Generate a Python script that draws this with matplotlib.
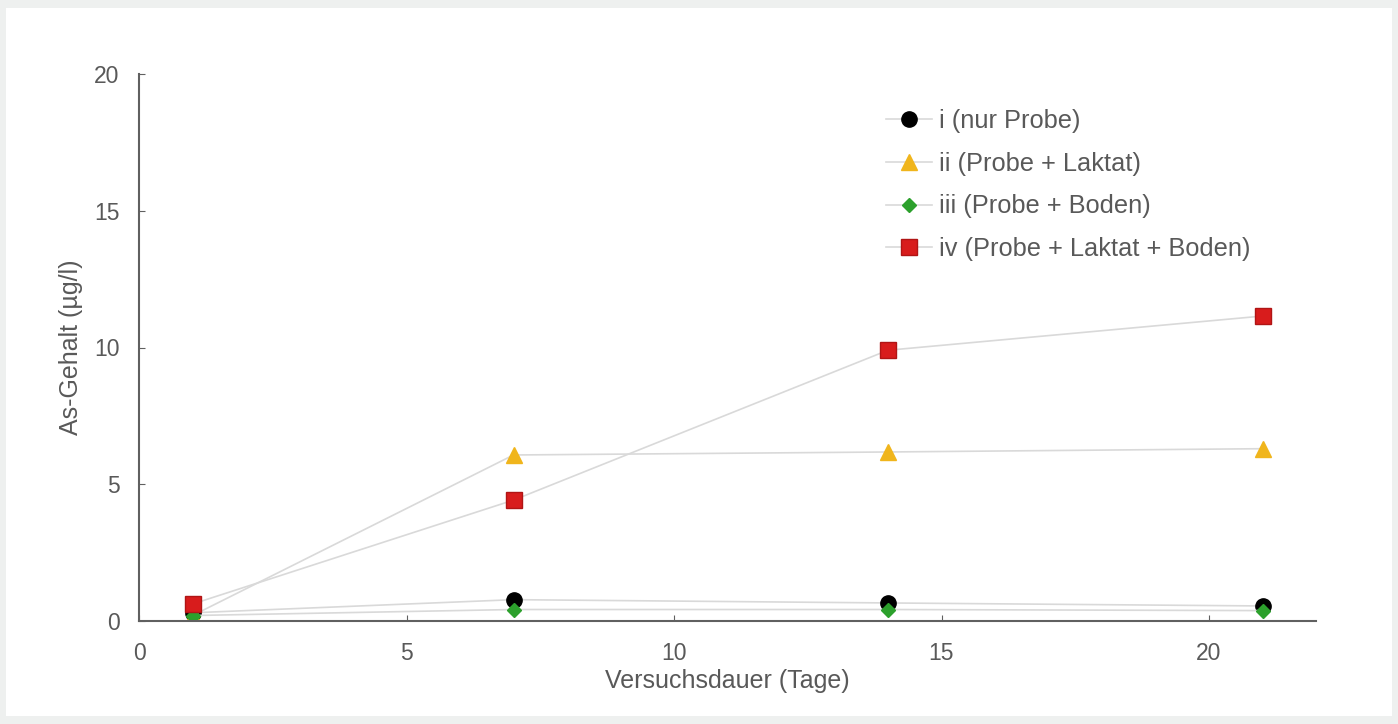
import matplotlib.pyplot as plt
from matplotlib.patches import Rectangle

plt.rcParams['font.family'] = ['Liberation Sans', 'DejaVu Sans']

# Versuchsdauer (Tage)
days = [1, 7, 14, 21]

# As-Gehalt (µg/l) je Ansatz
nur_probe = [0.3, 0.78, 0.66, 0.55]
probe_laktat = [0.2, 6.07, 6.18, 6.3]
probe_boden = [0.2, 0.42, 0.42, 0.38]
probe_laktat_boden = [0.62, 4.42, 9.9, 11.15]

labels = ['i (nur Probe)', 'ii (Probe + Laktat)', 'iii (Probe + Boden)',
          'iv (Probe + Laktat + Boden)']

text_col = '#595959'
line_col = '#d9d9d9'

fig = plt.figure(figsize=(13.98, 7.24), dpi=100)
fig.patch.set_facecolor('#eef0ef')
fig.add_artist(Rectangle((6 / 1398, 8 / 724), 1386 / 1398, 708 / 724,
                         transform=fig.transFigure, facecolor='white',
                         edgecolor='none', zorder=-10))

ax = fig.add_axes([139 / 1398, 103 / 724, 1177 / 1398, 547 / 724])
ax.set_facecolor('none')

ax.plot(days, nur_probe, color=line_col, lw=1.2, marker='o', ms=11,
        mfc='black', mec='black', label=labels[0])
ax.plot(days, probe_laktat, color=line_col, lw=1.2, marker='^', ms=11,
        mfc='#f0b51c', mec='#f0b51c', label=labels[1])
ax.plot(days, probe_boden, color=line_col, lw=1.2, marker='D', ms=7.5,
        mfc='#2ca02c', mec='#2ca02c', label=labels[2])
ax.plot(days, probe_laktat_boden, color=line_col, lw=1.2, marker='s', ms=11,
        mfc='#d81c1c', mec='#b01515', label=labels[3])

ax.set_xlim(0, 22)
ax.set_ylim(0, 20)
ax.set_xticks([0, 5, 10, 15, 20])
ax.set_yticks([0, 5, 10, 15, 20])

for s in ['top', 'right']:
    ax.spines[s].set_visible(False)
for s in ['left', 'bottom']:
    ax.spines[s].set_color('#606060')
    ax.spines[s].set_linewidth(1.5)

ax.tick_params(direction='in', length=4, color='#606060', labelsize=16.5,
               labelcolor=text_col)
ax.tick_params(axis='x', pad=15)
ax.tick_params(axis='y', pad=14)

ax.set_xlabel('Versuchsdauer (Tage)', fontsize=18, color=text_col, labelpad=3)
ax.set_ylabel('As-Gehalt (µg/l)', fontsize=18, color=text_col, labelpad=8)

leg = ax.legend(loc='upper left', bbox_to_anchor=(0.626, 0.955), frameon=False,
                fontsize=18.3, labelcolor=text_col, handlelength=1.8,
                labelspacing=0.74, handletextpad=0.3, borderaxespad=0)

fig.savefig('out.png', dpi=100)
